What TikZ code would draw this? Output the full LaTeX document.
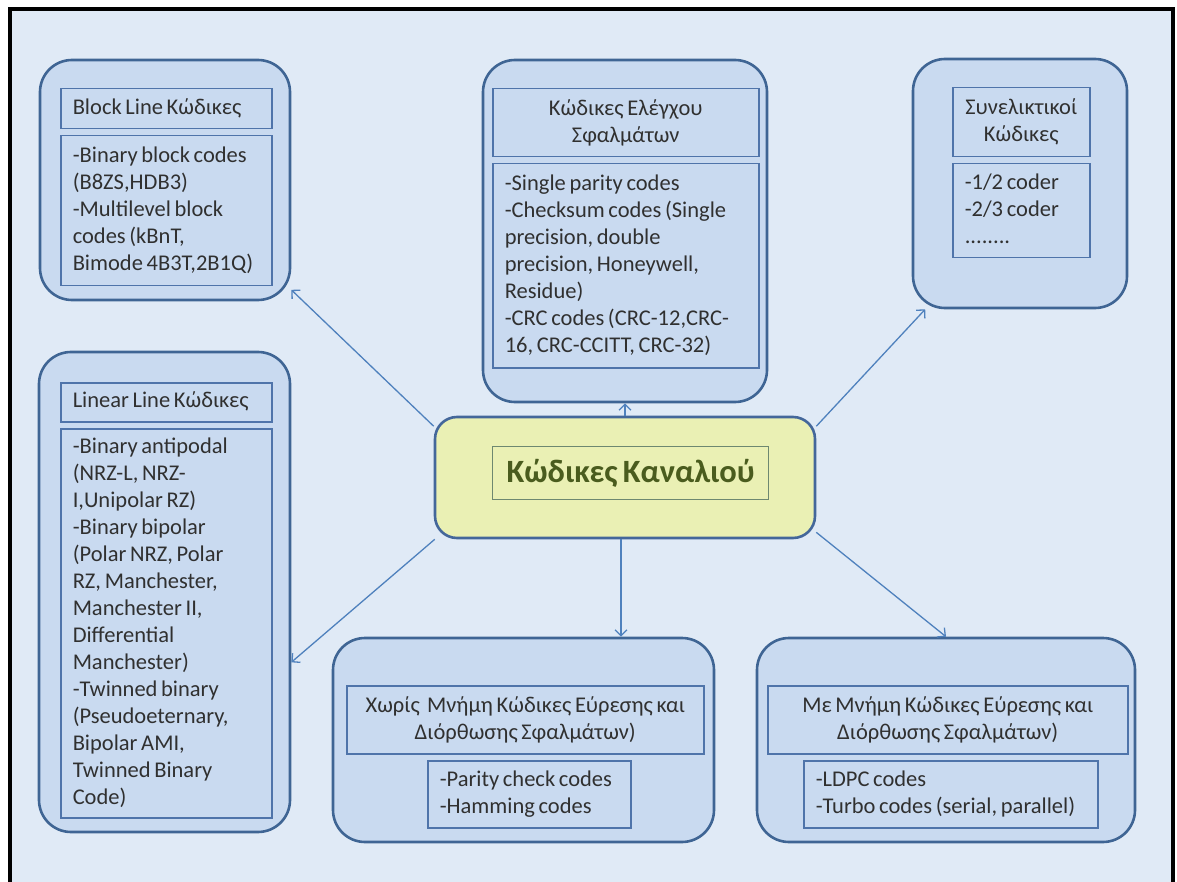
\documentclass[tikz,border=0pt]{standalone}
\usepackage{fontspec}
\setmainfont{Carlito}[WordSpace=0.72]
\usetikzlibrary{arrows.meta,calc}

\definecolor{pagebg}{HTML}{E0EAF6}
\definecolor{boxfill}{HTML}{C9DAF0}
\definecolor{boxline}{HTML}{3F6594}
\definecolor{innerline}{HTML}{4F74AA}
\definecolor{txt}{HTML}{303030}
\definecolor{hubfill}{HTML}{EAF0B4}
\definecolor{hubline}{HTML}{44679A}
\definecolor{hubinner}{HTML}{6E8870}
\definecolor{hubtxt}{HTML}{4A5C1E}
\definecolor{arrowc}{HTML}{4F81BD}

\newcommand{\bodyfont}{\fontsize{22.5}{27}\selectfont}
\newcommand{\hubfont}{\fontsize{32.5}{38}\selectfont\bfseries}
% fixed-width, left-aligned block of lines that never wraps
\newcommand{\linesbox}[2]{\makebox[#1][l]{\begin{tabular}{@{}l@{}}#2\end{tabular}}}

\tikzset{
  group/.style={draw=boxline, line width=2.6pt, fill=boxfill,
    rounded corners=32pt, inner sep=0pt},
  hub/.style={draw=hubline, line width=2.6pt, fill=hubfill,
    rounded corners=22pt, inner sep=0pt},
  listbox/.style={draw=innerline, line width=1.5pt, anchor=north west,
    inner xsep=12pt, inner ysep=0pt, font=\bodyfont, text=txt},
  headC/.style={draw=innerline, line width=1.5pt, anchor=north west,
    inner xsep=0pt, inner ysep=0pt, align=center, font=\bodyfont, text=txt},
  arr/.style={draw=arrowc, line width=1.3pt,
    -{Straight Barb[length=6pt,width=12pt]}},
}

\begin{document}
\begin{tikzpicture}[x=1pt,y=-1pt]
  % canvas and frame
  \useasboundingbox (0,0) rectangle (1177,882);
  \fill[white] (0,0) rectangle (1177,882);
  \fill[pagebg] (10,9) rectangle (1172.5,882);
  \draw[black, line width=4pt] (10,884) -- (10,9) -- (1172.5,9) -- (1172.5,884);

  % outer group boxes
  \node[group, minimum width=250pt, minimum height=240pt] (block) at (165,180) {};
  \node[group, minimum width=284pt, minimum height=342pt] (err) at (625,231) {};
  \node[group, minimum width=214pt, minimum height=249pt] (conv) at (1020,183.5) {};
  \node[group, minimum width=251pt, minimum height=480pt] (lin) at (164.5,592) {};
  \node[group, minimum width=381pt, minimum height=204pt] (nomem) at (523.5,740) {};
  \node[group, minimum width=378pt, minimum height=204pt] (mem) at (946,740) {};

  % central node
  \node[hub, minimum width=380pt, minimum height=121pt] (c) at (625,477.5) {};
  \node[draw=hubinner, line width=1.3pt, anchor=north west, inner sep=0pt,
        minimum width=276pt, minimum height=53pt, font=\hubfont, text=hubtxt]
        (ctitle) at (492,446) {Κώδικες Καναλιού};

  % block line codes
  \node[listbox, minimum height=40pt] (blockT) at (60,88)
    {\linesbox{187pt}{Block Line Κώδικες}};
  \node[listbox, minimum height=150pt] (blockL) at (60,135)
    {\linesbox{187pt}{-Binary block codes\\(B8ZS,HDB3)\\-Multilevel block\\codes (kBnT,\\Bimode 4B3T,2B1Q)}};

  % error checking codes
  \node[headC, minimum width=266pt, minimum height=68pt] (errT) at (492,88)
    {Κώδικες Ελέγχου\\Σφαλμάτων};
  \node[listbox, minimum height=204pt] (errL) at (492,163)
    {\linesbox{242pt}{-Single parity codes\\-Checksum codes (Single\\precision, double\\precision, Honeywell,\\Residue)\\-CRC codes (CRC-12,CRC-\\16, CRC-CCITT, CRC-32)}};

  % convolutional codes
  \node[headC, minimum width=137pt, minimum height=69pt] (convT) at (952,87)
    {Συνελικτικοί\\Κώδικες};
  \node[listbox, minimum height=94pt] (convL) at (952,163)
    {\linesbox{113pt}{-1/2 coder\\-2/3 coder\\........}};

  % linear line codes
  \node[listbox, minimum height=39pt] (linT) at (60,382)
    {\linesbox{187pt}{Linear Line Κώδικες}};
  \node[listbox, minimum height=389pt] (linL) at (60,428)
    {\linesbox{187pt}{-Binary antipodal\\(NRZ-L, NRZ-\\I,Unipolar RZ)\\-Binary bipolar\\(Polar NRZ, Polar\\RZ, Manchester,\\Manchester II,\\Differential\\Manchester)\\-Twinned binary\\(Pseudoeternary,\\Bipolar AMI,\\Twinned Binary\\Code)}};

  % memoryless codes
  \node[headC, minimum width=357pt, minimum height=68pt] (nomemT) at (346,685)
    {Χωρίς\ \ Μνήμη Κώδικες Εύρεσης και\\Διόρθωσης Σφαλμάτων)};
  \node[listbox, minimum height=67pt] (nomemL) at (427,760)
    {\linesbox{179pt}{-Parity check codes\\-Hamming codes}};

  % codes with memory
  \node[headC, minimum width=360pt, minimum height=68pt] (memT) at (767,685)
    {Με Μνήμη Κώδικες Εύρεσης και\\Διόρθωσης Σφαλμάτων)};
  \node[listbox, minimum height=67pt] (memL) at (803,760)
    {\linesbox{270pt}{-LDPC codes\\-Turbo codes (serial, parallel)}};

  % connectors
  \draw[arr] (c.165) -- (block.-41);
  \draw[arr] (c.north) -- (err.south);
  \draw[arr] (c.15) -- (conv.-127);
  \draw[arr] (c.198) -- (lin.-29.5);
  \draw[arr] ([xshift=-4pt]c.south) -- ([xshift=-4pt]c.south |- nomem.north);
  \draw[arr] (c.-16) -- (mem.north);
\end{tikzpicture}
\end{document}
